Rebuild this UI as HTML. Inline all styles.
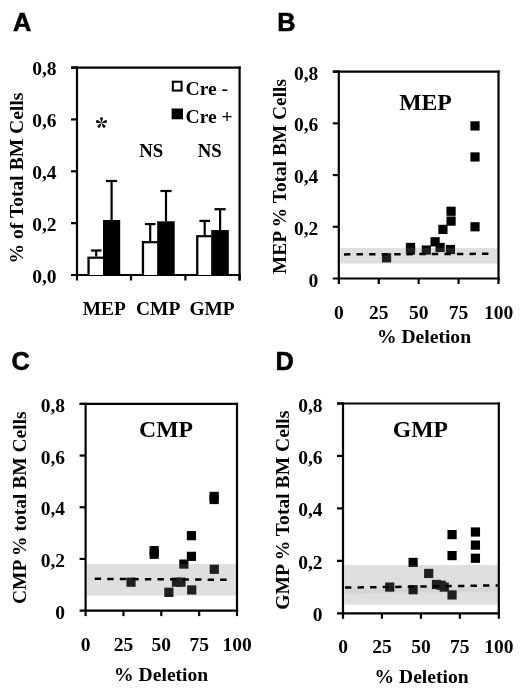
<!DOCTYPE html>
<html><head><meta charset="utf-8"><style>
html,body{margin:0;padding:0;background:#fff;}
body{width:520px;height:692px;overflow:hidden;font-family:"Liberation Serif", serif;}
svg{display:block;}
</style></head><body>
<svg width="520" height="692" viewBox="0 0 520 692" style="will-change:transform">
<defs><filter id="sh" x="-5%" y="-200%" width="110%" height="500%"><feGaussianBlur stdDeviation="1.2"/></filter></defs>
<rect x="0" y="0" width="520" height="692" fill="#fff"/>
<text x="13.00" y="30.90" font-family='"Liberation Sans", sans-serif' font-size="25.4" font-weight="bold" text-anchor="start" stroke="#000" stroke-width="0.55">A</text>
<text x="277.30" y="31.10" font-family='"Liberation Sans", sans-serif' font-size="25.4" font-weight="bold" text-anchor="start" stroke="#000" stroke-width="0.55">B</text>
<text x="11.50" y="370.20" font-family='"Liberation Sans", sans-serif' font-size="25.4" font-weight="bold" text-anchor="start" stroke="#000" stroke-width="0.55">C</text>
<text x="275.60" y="370.20" font-family='"Liberation Sans", sans-serif' font-size="25.4" font-weight="bold" text-anchor="start" stroke="#000" stroke-width="0.55">D</text>
<line x1="71.00" y1="67.60" x2="240.70" y2="67.60" stroke="#000" stroke-width="2.2" />
<line x1="239.60" y1="66.50" x2="239.60" y2="280.50" stroke="#000" stroke-width="2.2" />
<line x1="77.00" y1="66.50" x2="77.00" y2="280.50" stroke="#000" stroke-width="2.2" />
<line x1="71.00" y1="275.00" x2="240.70" y2="275.00" stroke="#000" stroke-width="2.2" />
<line x1="71.00" y1="223.15" x2="77.00" y2="223.15" stroke="#000" stroke-width="2.2" />
<line x1="71.00" y1="171.30" x2="77.00" y2="171.30" stroke="#000" stroke-width="2.2" />
<line x1="71.00" y1="119.45" x2="77.00" y2="119.45" stroke="#000" stroke-width="2.2" />
<line x1="71.00" y1="67.60" x2="77.00" y2="67.60" stroke="#000" stroke-width="2.2" />
<line x1="131.00" y1="275.00" x2="131.00" y2="280.50" stroke="#000" stroke-width="2.2" />
<line x1="185.40" y1="275.00" x2="185.40" y2="280.50" stroke="#000" stroke-width="2.2" />
<line x1="239.60" y1="275.00" x2="239.60" y2="280.50" stroke="#000" stroke-width="2.2" />
<text x="56.50" y="282.50" font-family='"Liberation Serif", serif' font-size="19.5" font-weight="bold" text-anchor="end" >0,0</text>
<text x="56.50" y="230.65" font-family='"Liberation Serif", serif' font-size="19.5" font-weight="bold" text-anchor="end" >0,2</text>
<text x="56.50" y="178.80" font-family='"Liberation Serif", serif' font-size="19.5" font-weight="bold" text-anchor="end" >0,4</text>
<text x="56.50" y="126.95" font-family='"Liberation Serif", serif' font-size="19.5" font-weight="bold" text-anchor="end" >0,6</text>
<text x="56.50" y="75.10" font-family='"Liberation Serif", serif' font-size="19.5" font-weight="bold" text-anchor="end" >0,8</text>
<text transform="translate(23.10,178.00) rotate(-90)" font-family='"Liberation Serif", serif' font-size="19.6" font-weight="bold" text-anchor="middle">% of Total BM Cells</text>
<line x1="96.20" y1="250.50" x2="96.20" y2="256.60" stroke="#000" stroke-width="2.2" />
<line x1="90.90" y1="250.50" x2="101.50" y2="250.50" stroke="#000" stroke-width="2.2" />
<line x1="111.60" y1="181.00" x2="111.60" y2="220.00" stroke="#000" stroke-width="2.2" />
<line x1="106.00" y1="181.00" x2="117.20" y2="181.00" stroke="#000" stroke-width="2.2" />
<rect x="87.40" y="256.60" width="15.60" height="18.40" fill="#000" />
<rect x="89.70" y="258.80" width="13.30" height="16.20" fill="#fff" />
<rect x="103.00" y="220.00" width="17.20" height="55.00" fill="#000" />
<line x1="150.20" y1="224.10" x2="150.20" y2="241.10" stroke="#000" stroke-width="2.2" />
<line x1="144.90" y1="224.10" x2="155.50" y2="224.10" stroke="#000" stroke-width="2.2" />
<line x1="166.00" y1="191.00" x2="166.00" y2="221.30" stroke="#000" stroke-width="2.2" />
<line x1="160.40" y1="191.00" x2="171.60" y2="191.00" stroke="#000" stroke-width="2.2" />
<rect x="141.80" y="241.10" width="15.40" height="33.90" fill="#000" />
<rect x="144.10" y="243.30" width="13.10" height="31.70" fill="#fff" />
<rect x="157.20" y="221.30" width="17.50" height="53.70" fill="#000" />
<line x1="204.70" y1="220.90" x2="204.70" y2="235.10" stroke="#000" stroke-width="2.2" />
<line x1="199.40" y1="220.90" x2="210.00" y2="220.90" stroke="#000" stroke-width="2.2" />
<line x1="220.10" y1="209.20" x2="220.10" y2="230.10" stroke="#000" stroke-width="2.2" />
<line x1="214.50" y1="209.20" x2="225.70" y2="209.20" stroke="#000" stroke-width="2.2" />
<rect x="196.10" y="235.10" width="15.10" height="39.90" fill="#000" />
<rect x="198.40" y="237.30" width="12.80" height="37.70" fill="#fff" />
<rect x="211.20" y="230.10" width="17.60" height="44.90" fill="#000" />
<rect x="171.80" y="80.70" width="10.80" height="10.90" fill="#000" />
<rect x="173.90" y="82.80" width="6.60" height="6.70" fill="#fff" />
<rect x="171.60" y="108.50" width="11.40" height="10.80" fill="#000" />
<text x="185.50" y="95.00" font-family='"Liberation Serif", serif' font-size="19.6" font-weight="bold" text-anchor="start" >Cre -</text>
<text x="185.50" y="122.90" font-family='"Liberation Serif", serif' font-size="19.6" font-weight="bold" text-anchor="start" >Cre +</text>
<g transform="translate(101.5,122.9)"><path transform="rotate(0)" d="M0,0 L-1.25,-3.6 A1.45,1.45 0 1,1 1.25,-3.6 Z" fill="#000"/><path transform="rotate(72)" d="M0,0 L-1.25,-3.6 A1.45,1.45 0 1,1 1.25,-3.6 Z" fill="#000"/><path transform="rotate(144)" d="M0,0 L-1.25,-3.6 A1.45,1.45 0 1,1 1.25,-3.6 Z" fill="#000"/><path transform="rotate(216)" d="M0,0 L-1.25,-3.6 A1.45,1.45 0 1,1 1.25,-3.6 Z" fill="#000"/><path transform="rotate(288)" d="M0,0 L-1.25,-3.6 A1.45,1.45 0 1,1 1.25,-3.6 Z" fill="#000"/></g>
<text x="151.20" y="156.60" font-family='"Liberation Serif", serif' font-size="18.8" font-weight="bold" text-anchor="middle" >NS</text>
<text x="209.80" y="156.60" font-family='"Liberation Serif", serif' font-size="18.8" font-weight="bold" text-anchor="middle" >NS</text>
<text x="104.20" y="314.80" font-family='"Liberation Serif", serif' font-size="19.4" font-weight="bold" text-anchor="middle" >MEP</text>
<text x="158.20" y="314.80" font-family='"Liberation Serif", serif' font-size="19.4" font-weight="bold" text-anchor="middle" >CMP</text>
<text x="212.00" y="314.80" font-family='"Liberation Serif", serif' font-size="19.4" font-weight="bold" text-anchor="middle" >GMP</text>
<rect x="381.95" y="253.21" width="9.20" height="9.20" fill="#000" />
<rect x="405.91" y="242.87" width="9.20" height="9.20" fill="#000" />
<rect x="405.91" y="245.45" width="9.20" height="9.20" fill="#000" />
<rect x="421.72" y="245.45" width="9.20" height="9.20" fill="#000" />
<rect x="430.50" y="237.18" width="9.20" height="9.20" fill="#000" />
<rect x="435.45" y="242.87" width="9.20" height="9.20" fill="#000" />
<rect x="438.32" y="224.76" width="9.20" height="9.20" fill="#000" />
<rect x="446.47" y="216.49" width="9.20" height="9.20" fill="#000" />
<rect x="446.47" y="206.66" width="9.20" height="9.20" fill="#000" />
<rect x="445.83" y="244.93" width="9.20" height="9.20" fill="#000" />
<rect x="470.42" y="121.31" width="9.20" height="9.20" fill="#000" />
<rect x="470.42" y="152.35" width="9.20" height="9.20" fill="#000" />
<rect x="470.42" y="222.18" width="9.20" height="9.20" fill="#000" />
<rect x="431.00" y="247.80" width="3.60" height="4.40" fill="#fff" />
<rect x="340.40" y="247.98" width="157.00" height="15.52" fill="rgb(127,127,127)" fill-opacity="0.25"/>
<line x1="344.00" y1="254.40" x2="490.00" y2="253.80" stroke="#000" stroke-width="2.5" stroke-dasharray="6.4 6.15"/>
<line x1="332.80" y1="71.60" x2="499.60" y2="71.60" stroke="#000" stroke-width="2.2" />
<line x1="498.50" y1="70.50" x2="498.50" y2="279.60" stroke="#000" stroke-width="2.2" />
<line x1="338.80" y1="70.50" x2="338.80" y2="284.00" stroke="#000" stroke-width="2.2" />
<line x1="332.80" y1="278.50" x2="499.60" y2="278.50" stroke="#000" stroke-width="2.2" />
<line x1="332.80" y1="226.78" x2="338.80" y2="226.78" stroke="#000" stroke-width="2.2" />
<line x1="332.80" y1="175.05" x2="338.80" y2="175.05" stroke="#000" stroke-width="2.2" />
<line x1="332.80" y1="123.33" x2="338.80" y2="123.33" stroke="#000" stroke-width="2.2" />
<line x1="332.80" y1="71.60" x2="338.80" y2="71.60" stroke="#000" stroke-width="2.2" />
<line x1="378.73" y1="278.50" x2="378.73" y2="284.00" stroke="#000" stroke-width="2.2" />
<line x1="418.65" y1="278.50" x2="418.65" y2="284.00" stroke="#000" stroke-width="2.2" />
<line x1="458.58" y1="278.50" x2="458.58" y2="284.00" stroke="#000" stroke-width="2.2" />
<line x1="498.50" y1="278.50" x2="498.50" y2="284.00" stroke="#000" stroke-width="2.2" />
<text x="318.30" y="286.50" font-family='"Liberation Serif", serif' font-size="19.5" font-weight="bold" text-anchor="end" >0</text>
<text x="318.30" y="234.78" font-family='"Liberation Serif", serif' font-size="19.5" font-weight="bold" text-anchor="end" >0,2</text>
<text x="318.30" y="183.05" font-family='"Liberation Serif", serif' font-size="19.5" font-weight="bold" text-anchor="end" >0,4</text>
<text x="318.30" y="131.33" font-family='"Liberation Serif", serif' font-size="19.5" font-weight="bold" text-anchor="end" >0,6</text>
<text x="318.30" y="79.60" font-family='"Liberation Serif", serif' font-size="19.5" font-weight="bold" text-anchor="end" >0,8</text>
<text x="338.80" y="318.50" font-family='"Liberation Serif", serif' font-size="19.5" font-weight="bold" text-anchor="middle" >0</text>
<text x="378.73" y="318.50" font-family='"Liberation Serif", serif' font-size="19.5" font-weight="bold" text-anchor="middle" >25</text>
<text x="418.65" y="318.50" font-family='"Liberation Serif", serif' font-size="19.5" font-weight="bold" text-anchor="middle" >50</text>
<text x="458.58" y="318.50" font-family='"Liberation Serif", serif' font-size="19.5" font-weight="bold" text-anchor="middle" >75</text>
<text x="498.50" y="318.50" font-family='"Liberation Serif", serif' font-size="19.5" font-weight="bold" text-anchor="middle" >100</text>
<text x="424.00" y="343.00" font-family='"Liberation Serif", serif' font-size="19.6" font-weight="bold" text-anchor="middle" >% Deletion</text>
<text x="425.50" y="109.80" font-family='"Liberation Serif", serif' font-size="23.7" font-weight="bold" text-anchor="middle" >MEP</text>
<text transform="translate(286.00,176.50) rotate(-90)" font-family='"Liberation Serif", serif' font-size="19.4" font-weight="bold" text-anchor="middle">MEP % Total BM Cells</text>
<rect x="126.42" y="577.58" width="9.20" height="9.20" fill="#000" />
<rect x="149.58" y="546.06" width="9.20" height="9.20" fill="#000" />
<rect x="149.58" y="549.67" width="9.20" height="9.20" fill="#000" />
<rect x="164.27" y="587.66" width="9.20" height="9.20" fill="#000" />
<rect x="171.84" y="577.58" width="9.20" height="9.20" fill="#000" />
<rect x="176.38" y="577.58" width="9.20" height="9.20" fill="#000" />
<rect x="179.26" y="559.49" width="9.20" height="9.20" fill="#000" />
<rect x="186.83" y="551.74" width="9.20" height="9.20" fill="#000" />
<rect x="186.83" y="531.07" width="9.20" height="9.20" fill="#000" />
<rect x="187.13" y="585.33" width="9.20" height="9.20" fill="#000" />
<rect x="209.54" y="491.80" width="9.20" height="9.20" fill="#000" />
<rect x="209.54" y="494.90" width="9.20" height="9.20" fill="#000" />
<rect x="209.69" y="564.66" width="9.20" height="9.20" fill="#000" />
<rect x="87.20" y="564.09" width="148.70" height="31.52" fill="rgb(127,127,127)" fill-opacity="0.25"/>
<line x1="94.70" y1="578.80" x2="229.00" y2="579.80" stroke="#000" stroke-width="2.5" stroke-dasharray="6.4 6.15"/>
<line x1="79.60" y1="403.90" x2="238.10" y2="403.90" stroke="#000" stroke-width="2.2" />
<line x1="237.00" y1="402.80" x2="237.00" y2="611.70" stroke="#000" stroke-width="2.2" />
<line x1="85.60" y1="402.80" x2="85.60" y2="616.10" stroke="#000" stroke-width="2.2" />
<line x1="79.60" y1="610.60" x2="238.10" y2="610.60" stroke="#000" stroke-width="2.2" />
<line x1="79.60" y1="558.92" x2="85.60" y2="558.92" stroke="#000" stroke-width="2.2" />
<line x1="79.60" y1="507.25" x2="85.60" y2="507.25" stroke="#000" stroke-width="2.2" />
<line x1="79.60" y1="455.57" x2="85.60" y2="455.57" stroke="#000" stroke-width="2.2" />
<line x1="79.60" y1="403.90" x2="85.60" y2="403.90" stroke="#000" stroke-width="2.2" />
<line x1="123.45" y1="610.60" x2="123.45" y2="616.10" stroke="#000" stroke-width="2.2" />
<line x1="161.30" y1="610.60" x2="161.30" y2="616.10" stroke="#000" stroke-width="2.2" />
<line x1="199.15" y1="610.60" x2="199.15" y2="616.10" stroke="#000" stroke-width="2.2" />
<line x1="237.00" y1="610.60" x2="237.00" y2="616.10" stroke="#000" stroke-width="2.2" />
<text x="65.10" y="618.60" font-family='"Liberation Serif", serif' font-size="19.5" font-weight="bold" text-anchor="end" >0</text>
<text x="65.10" y="566.92" font-family='"Liberation Serif", serif' font-size="19.5" font-weight="bold" text-anchor="end" >0,2</text>
<text x="65.10" y="515.25" font-family='"Liberation Serif", serif' font-size="19.5" font-weight="bold" text-anchor="end" >0,4</text>
<text x="65.10" y="463.57" font-family='"Liberation Serif", serif' font-size="19.5" font-weight="bold" text-anchor="end" >0,6</text>
<text x="65.10" y="411.90" font-family='"Liberation Serif", serif' font-size="19.5" font-weight="bold" text-anchor="end" >0,8</text>
<text x="85.60" y="650.80" font-family='"Liberation Serif", serif' font-size="19.5" font-weight="bold" text-anchor="middle" >0</text>
<text x="123.45" y="650.80" font-family='"Liberation Serif", serif' font-size="19.5" font-weight="bold" text-anchor="middle" >25</text>
<text x="161.30" y="650.80" font-family='"Liberation Serif", serif' font-size="19.5" font-weight="bold" text-anchor="middle" >50</text>
<text x="199.15" y="650.80" font-family='"Liberation Serif", serif' font-size="19.5" font-weight="bold" text-anchor="middle" >75</text>
<text x="237.00" y="650.80" font-family='"Liberation Serif", serif' font-size="19.5" font-weight="bold" text-anchor="middle" >100</text>
<text x="161.20" y="681.00" font-family='"Liberation Serif", serif' font-size="19.6" font-weight="bold" text-anchor="middle" >% Deletion</text>
<text x="166.00" y="437.30" font-family='"Liberation Serif", serif' font-size="23.7" font-weight="bold" text-anchor="middle" >CMP</text>
<text transform="translate(26.00,507.70) rotate(-90)" font-family='"Liberation Serif", serif' font-size="19.5" font-weight="bold" text-anchor="middle">CMP % total BM Cells</text>
<rect x="385.14" y="582.47" width="9.20" height="9.20" fill="#000" />
<rect x="408.51" y="557.82" width="9.20" height="9.20" fill="#000" />
<rect x="408.51" y="585.10" width="9.20" height="9.20" fill="#000" />
<rect x="424.09" y="568.84" width="9.20" height="9.20" fill="#000" />
<rect x="431.88" y="579.85" width="9.20" height="9.20" fill="#000" />
<rect x="436.55" y="580.64" width="9.20" height="9.20" fill="#000" />
<rect x="439.67" y="582.47" width="9.20" height="9.20" fill="#000" />
<rect x="447.46" y="590.34" width="9.20" height="9.20" fill="#000" />
<rect x="447.46" y="530.02" width="9.20" height="9.20" fill="#000" />
<rect x="447.46" y="551.00" width="9.20" height="9.20" fill="#000" />
<rect x="470.83" y="527.40" width="9.20" height="9.20" fill="#000" />
<rect x="470.83" y="540.51" width="9.20" height="9.20" fill="#000" />
<rect x="470.83" y="553.63" width="9.20" height="9.20" fill="#000" />
<rect x="344.60" y="565.05" width="153.10" height="39.60" fill="rgb(127,127,127)" fill-opacity="0.25"/>
<line x1="345.00" y1="591.60" x2="497.60" y2="589.40" stroke="#000" stroke-opacity="0.06" stroke-width="4" filter="url(#sh)"/>
<line x1="345.00" y1="587.60" x2="498.00" y2="585.40" stroke="#000" stroke-width="2.5" stroke-dasharray="6.4 6.15"/>
<line x1="337.00" y1="403.50" x2="499.90" y2="403.50" stroke="#000" stroke-width="2.2" />
<line x1="498.80" y1="402.40" x2="498.80" y2="614.40" stroke="#000" stroke-width="2.2" />
<line x1="343.00" y1="402.40" x2="343.00" y2="618.80" stroke="#000" stroke-width="2.2" />
<line x1="337.00" y1="613.30" x2="499.90" y2="613.30" stroke="#000" stroke-width="2.2" />
<line x1="337.00" y1="560.85" x2="343.00" y2="560.85" stroke="#000" stroke-width="2.2" />
<line x1="337.00" y1="508.40" x2="343.00" y2="508.40" stroke="#000" stroke-width="2.2" />
<line x1="337.00" y1="455.95" x2="343.00" y2="455.95" stroke="#000" stroke-width="2.2" />
<line x1="337.00" y1="403.50" x2="343.00" y2="403.50" stroke="#000" stroke-width="2.2" />
<line x1="381.95" y1="613.30" x2="381.95" y2="618.80" stroke="#000" stroke-width="2.2" />
<line x1="420.90" y1="613.30" x2="420.90" y2="618.80" stroke="#000" stroke-width="2.2" />
<line x1="459.85" y1="613.30" x2="459.85" y2="618.80" stroke="#000" stroke-width="2.2" />
<line x1="498.80" y1="613.30" x2="498.80" y2="618.80" stroke="#000" stroke-width="2.2" />
<text x="322.50" y="621.30" font-family='"Liberation Serif", serif' font-size="19.5" font-weight="bold" text-anchor="end" >0</text>
<text x="322.50" y="568.85" font-family='"Liberation Serif", serif' font-size="19.5" font-weight="bold" text-anchor="end" >0,2</text>
<text x="322.50" y="516.40" font-family='"Liberation Serif", serif' font-size="19.5" font-weight="bold" text-anchor="end" >0,4</text>
<text x="322.50" y="463.95" font-family='"Liberation Serif", serif' font-size="19.5" font-weight="bold" text-anchor="end" >0,6</text>
<text x="322.50" y="411.50" font-family='"Liberation Serif", serif' font-size="19.5" font-weight="bold" text-anchor="end" >0,8</text>
<text x="343.00" y="653.00" font-family='"Liberation Serif", serif' font-size="19.5" font-weight="bold" text-anchor="middle" >0</text>
<text x="381.95" y="653.00" font-family='"Liberation Serif", serif' font-size="19.5" font-weight="bold" text-anchor="middle" >25</text>
<text x="420.90" y="653.00" font-family='"Liberation Serif", serif' font-size="19.5" font-weight="bold" text-anchor="middle" >50</text>
<text x="459.85" y="653.00" font-family='"Liberation Serif", serif' font-size="19.5" font-weight="bold" text-anchor="middle" >75</text>
<text x="498.80" y="653.00" font-family='"Liberation Serif", serif' font-size="19.5" font-weight="bold" text-anchor="middle" >100</text>
<text x="421.60" y="682.90" font-family='"Liberation Serif", serif' font-size="19.6" font-weight="bold" text-anchor="middle" >% Deletion</text>
<text x="420.40" y="437.30" font-family='"Liberation Serif", serif' font-size="23.7" font-weight="bold" text-anchor="middle" >GMP</text>
<text transform="translate(288.60,510.20) rotate(-90)" font-family='"Liberation Serif", serif' font-size="19.6" font-weight="bold" text-anchor="middle">GMP % Total BM Cells</text>
</svg>
</body></html>
